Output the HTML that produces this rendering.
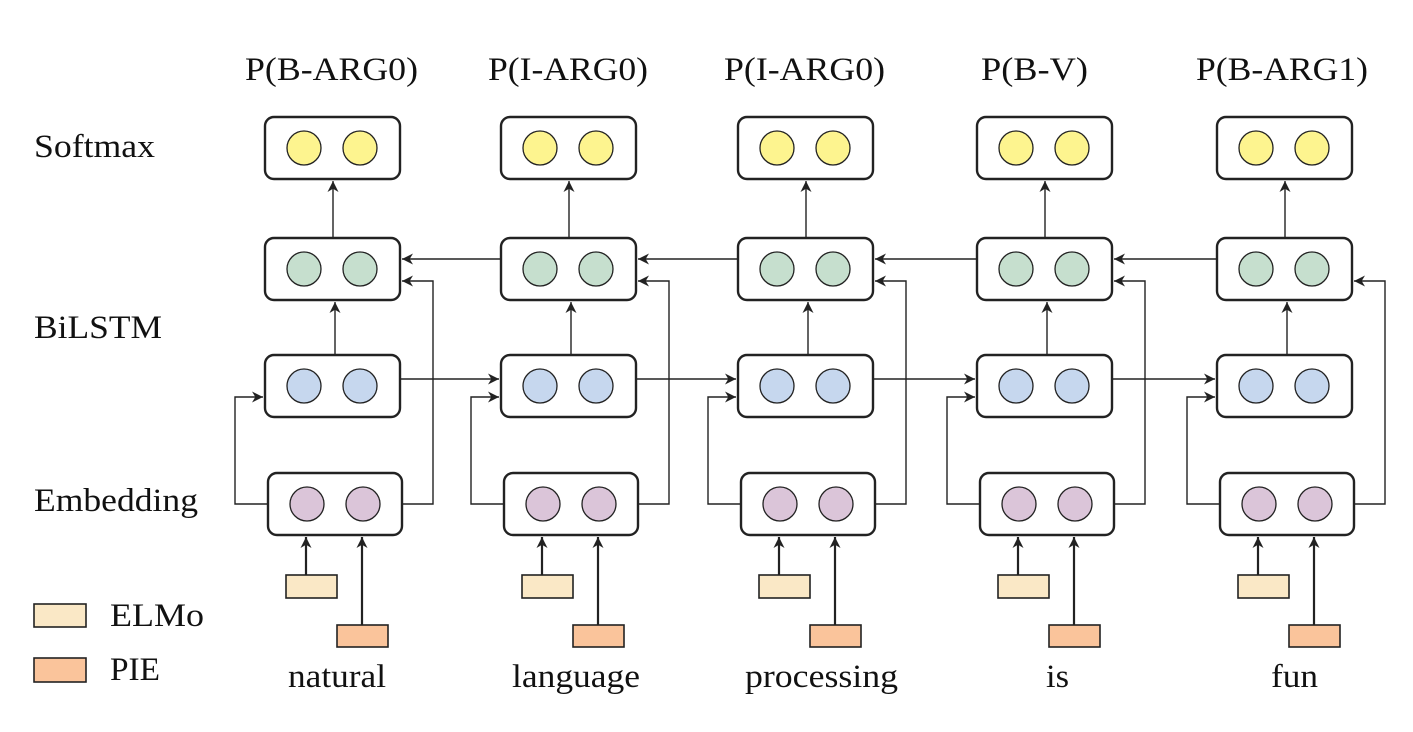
<!DOCTYPE html>
<html><head><meta charset="utf-8"><style>
body{margin:0;background:#fff}
svg text{font-family:"Liberation Serif",serif;fill:#111}
</style></head><body>
<svg width="1413" height="727" viewBox="0 0 1413 727" xmlns="http://www.w3.org/2000/svg">
<defs>
<marker id="a" viewBox="0 0 10 10" refX="10" refY="5" markerWidth="12" markerHeight="11" markerUnits="userSpaceOnUse" orient="auto"><path d="M0,0 L10,5 L0,10 L3,5 z" fill="#222"/></marker>
<g id="col" stroke="#222" fill="none">
<rect x="265" y="117" width="135" height="62" rx="9" stroke-width="2.4" fill="#fff"/>
<circle cx="304" cy="148" r="17" fill="#fdf48f" stroke-width="1.3"/>
<circle cx="360" cy="148" r="17" fill="#fdf48f" stroke-width="1.3"/>
<line x1="333" y1="238" x2="333" y2="181" stroke-width="1.4" marker-end="url(#a)"/>
<rect x="265" y="238" width="135" height="62" rx="9" stroke-width="2.4" fill="#fff"/>
<circle cx="304" cy="269" r="17" fill="#c6dfce" stroke-width="1.3"/>
<circle cx="360" cy="269" r="17" fill="#c6dfce" stroke-width="1.3"/>
<line x1="335" y1="355" x2="335" y2="302" stroke-width="1.4" marker-end="url(#a)"/>
<rect x="265" y="355" width="135" height="62" rx="9" stroke-width="2.4" fill="#fff"/>
<circle cx="304" cy="386" r="17" fill="#c6d7ee" stroke-width="1.3"/>
<circle cx="360" cy="386" r="17" fill="#c6d7ee" stroke-width="1.3"/>
<rect x="268" y="473" width="134" height="62" rx="9" stroke-width="2.4" fill="#fff"/>
<circle cx="307" cy="504" r="17" fill="#dbc5d9" stroke-width="1.3"/>
<circle cx="363" cy="504" r="17" fill="#dbc5d9" stroke-width="1.3"/>
<path d="M268 504 H235 V397 H263" stroke-width="1.4" marker-end="url(#a)"/>
<path d="M402 504 H433 V281 H402" stroke-width="1.4" marker-end="url(#a)"/>
<line x1="306" y1="575" x2="306" y2="537" stroke-width="2.2" marker-end="url(#a)"/>
<rect x="286" y="575" width="51" height="23" fill="#fae8c6" stroke-width="1.6"/>
<line x1="362" y1="625" x2="362" y2="537" stroke-width="2.2" marker-end="url(#a)"/>
<rect x="337" y="625" width="51" height="22" fill="#fac49b" stroke-width="1.6"/>
</g>
</defs>
<use href="#col"/>
<use href="#col" transform="translate(236,0)"/>
<use href="#col" transform="translate(473,0)"/>
<use href="#col" transform="translate(712,0)"/>
<use href="#col" transform="translate(952,0)"/>
<g stroke="#222" stroke-width="1.4" fill="none">
<line x1="400" y1="379" x2="499" y2="379" marker-end="url(#a)"/>
<line x1="636" y1="379" x2="736" y2="379" marker-end="url(#a)"/>
<line x1="873" y1="379" x2="975" y2="379" marker-end="url(#a)"/>
<line x1="1112" y1="379" x2="1215" y2="379" marker-end="url(#a)"/>
<line x1="501" y1="259" x2="402" y2="259" marker-end="url(#a)"/>
<line x1="737" y1="259" x2="638" y2="259" marker-end="url(#a)"/>
<line x1="977" y1="259" x2="875" y2="259" marker-end="url(#a)"/>
<line x1="1217" y1="259" x2="1114" y2="259" marker-end="url(#a)"/>
</g>
<g font-size="33" lengthAdjust="spacingAndGlyphs">
<text x="245" y="80" textLength="173" lengthAdjust="spacingAndGlyphs">P(B-ARG0)</text>
<text x="488" y="80" textLength="160" lengthAdjust="spacingAndGlyphs">P(I-ARG0)</text>
<text x="724" y="80" textLength="161" lengthAdjust="spacingAndGlyphs">P(I-ARG0)</text>
<text x="981" y="80" textLength="107" lengthAdjust="spacingAndGlyphs">P(B-V)</text>
<text x="1196" y="80" textLength="172" lengthAdjust="spacingAndGlyphs">P(B-ARG1)</text>
<text x="288" y="687" textLength="98" lengthAdjust="spacingAndGlyphs">natural</text>
<text x="512" y="687" textLength="128" lengthAdjust="spacingAndGlyphs">language</text>
<text x="745" y="687" textLength="153" lengthAdjust="spacingAndGlyphs">processing</text>
<text x="1046" y="687" textLength="23" lengthAdjust="spacingAndGlyphs">is</text>
<text x="1271" y="687" textLength="47" lengthAdjust="spacingAndGlyphs">fun</text>
<text x="34" y="157" textLength="121" lengthAdjust="spacingAndGlyphs">Softmax</text>
<text x="34" y="338" textLength="128" lengthAdjust="spacingAndGlyphs">BiLSTM</text>
<text x="34" y="511" textLength="164" lengthAdjust="spacingAndGlyphs">Embedding</text>
<text x="110" y="626" textLength="94" lengthAdjust="spacingAndGlyphs">ELMo</text>
<text x="110" y="680" textLength="50" lengthAdjust="spacingAndGlyphs">PIE</text>
</g>
<rect x="34" y="604" width="52" height="23" fill="#fae8c6" stroke="#222" stroke-width="1.6"/>
<rect x="34" y="658" width="52" height="24" fill="#fac49b" stroke="#222" stroke-width="1.6"/>
</svg>
</body></html>
